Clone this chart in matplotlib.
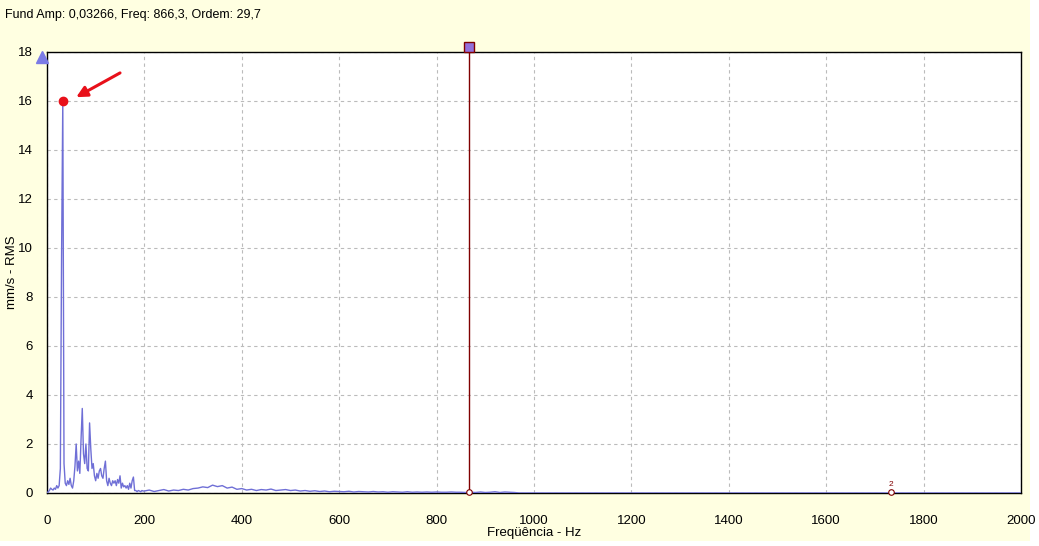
import matplotlib.pyplot as plt
from matplotlib.patches import Rectangle

plt.rcParams['font.family'] = ['Liberation Sans', 'DejaVu Sans']

# spectrum, 0-200 Hz (2.5 Hz steps)
freq_low = [0, 2.5, 5, 7.5, 10, 12.5, 15, 17.5, 20, 22.5, 25, 27.5, 30, 32.5, 35, 37.5,
            40, 42.5, 45, 47.5, 50, 52.5, 55, 57.5, 60, 62.5, 65, 67.5, 70, 72.5, 75, 77.5,
            80, 82.5, 85, 87.5, 90, 92.5, 95, 97.5, 100, 102.5, 105, 107.5, 110, 112.5, 115,
            117.5, 120, 122.5, 125, 127.5, 130, 132.5, 135, 137.5, 140, 142.5, 145, 147.5,
            150, 152.5, 155, 157.5, 160, 162.5, 165, 167.5, 170, 172.5, 175, 177.5, 180,
            182.5, 185, 187.5, 190, 192.5, 195, 197.5]
amp_low = [0.0, 0.05, 0.1, 0.2, 0.15, 0.12, 0.2, 0.15, 0.3, 0.2, 0.3, 1.0, 9.7, 16.0, 1.2, 0.4,
           0.3, 0.5, 0.35, 0.6, 0.3, 0.2, 0.5, 1.1, 2.0, 0.9, 1.3, 0.8, 2.2, 3.45, 1.6, 1.2,
           2.0, 1.0, 0.9, 2.86, 1.8, 1.0, 1.2, 0.7, 0.5, 0.8, 0.6, 0.9, 1.0, 0.7, 0.6,
           1.0, 1.3, 0.5, 0.3, 0.6, 0.4, 0.3, 0.5, 0.4, 0.5, 0.3, 0.55, 0.4,
           0.7, 0.2, 0.4, 0.25, 0.3, 0.2, 0.3, 0.15, 0.4, 0.2, 0.5, 0.65, 0.1,
           0.1, 0.05, 0.1, 0.08, 0.05, 0.1, 0.08]

# spectrum, 200-2000 Hz (10 Hz steps up to 1000)
freq_high = [200, 210, 220, 230, 240, 250, 260, 270, 280, 290, 300, 310, 320, 330, 340, 350,
             360, 370, 380, 390, 400, 410, 420, 430, 440, 450, 460, 470, 480, 490, 500, 510,
             520, 530, 540, 550, 560, 570, 580, 590, 600, 610, 620, 630, 640, 650, 660, 670,
             680, 690, 700, 710, 720, 730, 740, 750, 760, 770, 780, 790, 800, 810, 820, 830,
             840, 850, 860, 870, 880, 890, 900, 910, 920, 930, 940, 950, 960, 970, 1000, 2000]
amp_high = [0.08, 0.12, 0.06, 0.1, 0.14, 0.08, 0.12, 0.1, 0.15, 0.12, 0.18, 0.2, 0.25, 0.22, 0.32, 0.26,
            0.3, 0.2, 0.24, 0.15, 0.18, 0.12, 0.15, 0.1, 0.14, 0.12, 0.16, 0.1, 0.12, 0.14, 0.1, 0.12,
            0.08, 0.1, 0.07, 0.09, 0.06, 0.08, 0.05, 0.07, 0.06, 0.05, 0.07, 0.04, 0.06, 0.05, 0.04, 0.06,
            0.04, 0.05, 0.03, 0.05, 0.04, 0.03, 0.05, 0.03, 0.04, 0.03, 0.04, 0.03, 0.04, 0.03, 0.03, 0.04,
            0.03, 0.03, 0.02, 0.03, 0.02, 0.04, 0.02, 0.03, 0.05, 0.02, 0.04, 0.03, 0.02, 0.0, 0.0, 0.0]

peak_freq = 32.5
peak_amp = 16.0
harmonic_freqs = [866.3, 1732.6]
harmonic_labels = ['', '2']

bg = '#ffffe1'
fig = plt.figure(figsize=(10.39, 5.46), dpi=100, facecolor='white')
fig.patches.append(Rectangle((0, 0.009), 0.991, 0.991, transform=fig.transFigure,
                             facecolor=bg, edgecolor='none', zorder=-10))
ax = fig.add_axes([0.0452, 0.0971, 0.9375, 0.8077])
ax.set_facecolor('white')

ax.plot(freq_low + freq_high, amp_low + amp_high, color='#6f6fd6', lw=1.0, zorder=3)

# harmonic cursor
ax.plot([harmonic_freqs[0], harmonic_freqs[0]], [0, 18], color='#800000', lw=1.0, zorder=4)
ax.plot(harmonic_freqs[0], 18.2, marker='s', ms=7, mfc='#9370db', mec='#800000',
        clip_on=False, zorder=6)
for hf, lab in zip(harmonic_freqs, harmonic_labels):
    ax.plot(hf, 0.05, marker='o', ms=4, mfc='white', mec='#800000', mew=0.8,
            clip_on=False, zorder=5)
    if lab:
        ax.text(hf, 0.2, lab, color='#800000', fontsize=6, ha='center', va='bottom')

# peak marker and arrow
ax.plot(peak_freq, peak_amp, 'o', color='#e8101a', ms=6, zorder=6)
ax.annotate('', xy=(55, 16.1), xytext=(155, 17.2),
            arrowprops=dict(arrowstyle='-|>', color='#e8101a', lw=2.2, mutation_scale=16))

# reference triangle at left
ax.plot(-10, 17.8, marker='^', ms=8, color='#7b7be6', clip_on=False, zorder=6)

ax.set_xlim(0, 2000)
ax.set_ylim(0, 18)
ax.set_xticks(range(0, 2001, 200))
ax.set_yticks(range(0, 19, 2))
ax.tick_params(length=0, labelsize=9.5)
ax.tick_params(axis='x', pad=16)
ax.tick_params(axis='y', pad=10)
ax.grid(True, color='#bbbbbb', linestyle=(0, (3, 3)), lw=0.8)
ax.set_axisbelow(True)
for s in ax.spines.values():
    s.set_linewidth(1.0)
    s.set_color('black')

fig.text(534 / 1039, 1 - 533 / 546, 'Freqüência - Hz', fontsize=9.5,
         ha='center', va='center')
fig.text(12 / 1039, 1 - 272 / 546, 'mm/s - RMS', fontsize=9.5, rotation=90,
         ha='center', va='center')
fig.text(0.005, 0.973, 'Fund Amp: 0,03266, Freq: 866,3, Ordem: 29,7', fontsize=9,
         va='center', ha='left')

fig.savefig('out.png', dpi=100, facecolor=fig.get_facecolor())
